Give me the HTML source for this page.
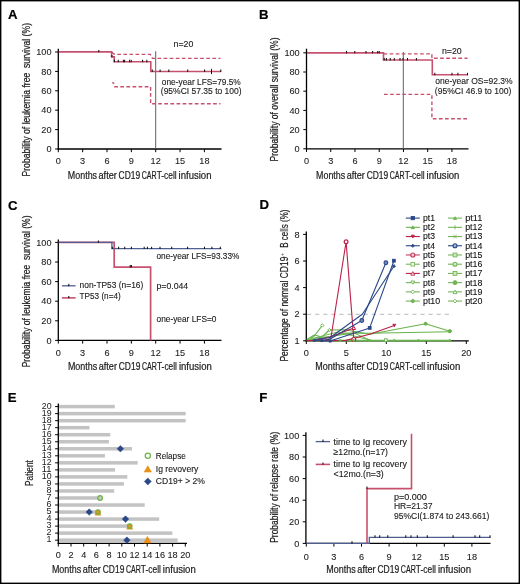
<!DOCTYPE html>
<html><head><meta charset="utf-8"><style>
html,body{margin:0;padding:0;background:#fff;}
svg{display:block;will-change:transform;}
text{font-family:"Liberation Sans", sans-serif;}
</style></head><body>
<svg width="520" height="584" viewBox="0 0 520 584">
<rect x="0" y="0" width="520" height="584" fill="#fff"/>
<rect x="0.6" y="0.6" width="518.8" height="582.8" fill="none" stroke="#000" stroke-width="1.6"/>
<text x="8" y="18.8" font-size="13.2" font-weight="bold" fill="#000" stroke="#000" stroke-width="0.2">A</text>
<line x1="58.3" y1="48.7" x2="58.3" y2="149.6" stroke="#000" stroke-width="1.3"/>
<line x1="55.099999999999994" y1="149.0" x2="58.3" y2="149.0" stroke="#000" stroke-width="1.0"/>
<text x="51.5" y="152.1" font-size="9.6" text-anchor="end" textLength="5.1" lengthAdjust="spacingAndGlyphs" fill="#1a1a1a" stroke="#1a1a1a" stroke-width="0.08">0</text>
<line x1="55.099999999999994" y1="129.6" x2="58.3" y2="129.6" stroke="#000" stroke-width="1.0"/>
<text x="51.5" y="132.7" font-size="9.6" text-anchor="end" textLength="10.2" lengthAdjust="spacingAndGlyphs" fill="#1a1a1a" stroke="#1a1a1a" stroke-width="0.08">20</text>
<line x1="55.099999999999994" y1="110.2" x2="58.3" y2="110.2" stroke="#000" stroke-width="1.0"/>
<text x="51.5" y="113.3" font-size="9.6" text-anchor="end" textLength="10.2" lengthAdjust="spacingAndGlyphs" fill="#1a1a1a" stroke="#1a1a1a" stroke-width="0.08">40</text>
<line x1="55.099999999999994" y1="90.80000000000001" x2="58.3" y2="90.80000000000001" stroke="#000" stroke-width="1.0"/>
<text x="51.5" y="93.9" font-size="9.6" text-anchor="end" textLength="10.2" lengthAdjust="spacingAndGlyphs" fill="#1a1a1a" stroke="#1a1a1a" stroke-width="0.08">60</text>
<line x1="55.099999999999994" y1="71.4" x2="58.3" y2="71.4" stroke="#000" stroke-width="1.0"/>
<text x="51.5" y="74.5" font-size="9.6" text-anchor="end" textLength="10.2" lengthAdjust="spacingAndGlyphs" fill="#1a1a1a" stroke="#1a1a1a" stroke-width="0.08">80</text>
<line x1="55.099999999999994" y1="52.0" x2="58.3" y2="52.0" stroke="#000" stroke-width="1.0"/>
<text x="51.5" y="55.1" font-size="9.6" text-anchor="end" textLength="15.299999999999999" lengthAdjust="spacingAndGlyphs" fill="#1a1a1a" stroke="#1a1a1a" stroke-width="0.08">100</text>
<line x1="57.699999999999996" y1="149.0" x2="221.5" y2="149.0" stroke="#000" stroke-width="1.35"/>
<line x1="58.3" y1="149.0" x2="58.3" y2="152.2" stroke="#000" stroke-width="1.0"/>
<text x="58.3" y="163.79999999999998" font-size="9.6" text-anchor="middle" textLength="5.1" lengthAdjust="spacingAndGlyphs" fill="#1a1a1a" stroke="#1a1a1a" stroke-width="0.08">0</text>
<line x1="82.651" y1="149.0" x2="82.651" y2="152.2" stroke="#000" stroke-width="1.0"/>
<text x="82.651" y="163.79999999999998" font-size="9.6" text-anchor="middle" textLength="5.1" lengthAdjust="spacingAndGlyphs" fill="#1a1a1a" stroke="#1a1a1a" stroke-width="0.08">3</text>
<line x1="107.00200000000001" y1="149.0" x2="107.00200000000001" y2="152.2" stroke="#000" stroke-width="1.0"/>
<text x="107.00200000000001" y="163.79999999999998" font-size="9.6" text-anchor="middle" textLength="5.1" lengthAdjust="spacingAndGlyphs" fill="#1a1a1a" stroke="#1a1a1a" stroke-width="0.08">6</text>
<line x1="131.353" y1="149.0" x2="131.353" y2="152.2" stroke="#000" stroke-width="1.0"/>
<text x="131.353" y="163.79999999999998" font-size="9.6" text-anchor="middle" textLength="5.1" lengthAdjust="spacingAndGlyphs" fill="#1a1a1a" stroke="#1a1a1a" stroke-width="0.08">9</text>
<line x1="155.704" y1="149.0" x2="155.704" y2="152.2" stroke="#000" stroke-width="1.0"/>
<text x="155.704" y="163.79999999999998" font-size="9.6" text-anchor="middle" textLength="10.2" lengthAdjust="spacingAndGlyphs" fill="#1a1a1a" stroke="#1a1a1a" stroke-width="0.08">12</text>
<line x1="180.055" y1="149.0" x2="180.055" y2="152.2" stroke="#000" stroke-width="1.0"/>
<text x="180.055" y="163.79999999999998" font-size="9.6" text-anchor="middle" textLength="10.2" lengthAdjust="spacingAndGlyphs" fill="#1a1a1a" stroke="#1a1a1a" stroke-width="0.08">15</text>
<line x1="204.406" y1="149.0" x2="204.406" y2="152.2" stroke="#000" stroke-width="1.0"/>
<text x="204.406" y="163.79999999999998" font-size="9.6" text-anchor="middle" textLength="10.2" lengthAdjust="spacingAndGlyphs" fill="#1a1a1a" stroke="#1a1a1a" stroke-width="0.08">18</text>
<text x="67.85" y="178.6" font-size="10.6" textLength="29.2" lengthAdjust="spacingAndGlyphs" fill="#1a1a1a" stroke="#1a1a1a" stroke-width="0.2">Months</text>
<text x="98.55" y="178.6" font-size="10.6" textLength="18.2" lengthAdjust="spacingAndGlyphs" fill="#1a1a1a" stroke="#1a1a1a" stroke-width="0.2">after</text>
<text x="118.55" y="178.6" font-size="10.6" textLength="21.6" lengthAdjust="spacingAndGlyphs" fill="#1a1a1a" stroke="#1a1a1a" stroke-width="0.2">CD19</text>
<text x="141.75" y="178.6" font-size="10.6" textLength="14.9" lengthAdjust="spacingAndGlyphs" fill="#1a1a1a" stroke="#1a1a1a" stroke-width="0.2">CAR</text>
<text x="156.65" y="178.6" font-size="10.6" textLength="20.0" lengthAdjust="spacingAndGlyphs" fill="#1a1a1a" stroke="#1a1a1a" stroke-width="0.2">T-cell</text>
<text x="178.55" y="178.6" font-size="10.6" textLength="32.9" lengthAdjust="spacingAndGlyphs" fill="#1a1a1a" stroke="#1a1a1a" stroke-width="0.2">infusion</text>
<text x="29.5" y="176.5" font-size="10.3" textLength="153.5" lengthAdjust="spacingAndGlyphs" transform="rotate(-90 29.5 176.5)" fill="#1a1a1a" stroke="#1a1a1a" stroke-width="0.2">Probability of leukemia free  survival (%)</text>
<line x1="155.7" y1="51.2" x2="155.7" y2="149.0" stroke="#606060" stroke-width="1.0"/>
<path d="M112.3,82.3 L114.2,83.6" stroke="#c8506f" stroke-width="1.4" fill="none"/>
<path d="M114.2,86.8 H150.6 V103.8 H220.5" stroke="#c8506f" stroke-width="1.4" fill="none" stroke-dasharray="3.7 2.4"/>
<path d="M111.8,52.4 L114.5,54.4 H150.4 L152.4,58.4 H220.5" stroke="#c8506f" stroke-width="1.4" fill="none" stroke-dasharray="3.7 2.4"/>
<path d="M58.8,51.9 H111.6 V56.9 H114.2 V61.8 H150.8 V71.5 H221" stroke="#c8506f" stroke-width="1.6" fill="none"/>
<line x1="98.8" y1="49.9" x2="98.8" y2="52.3" stroke="#111" stroke-width="1.05"/>
<line x1="111.9" y1="54.9" x2="111.9" y2="57.3" stroke="#111" stroke-width="1.05"/>
<line x1="114.4" y1="59.8" x2="114.4" y2="62.199999999999996" stroke="#111" stroke-width="1.05"/>
<line x1="118.3" y1="59.8" x2="118.3" y2="62.199999999999996" stroke="#111" stroke-width="1.05"/>
<line x1="123.4" y1="59.8" x2="123.4" y2="62.199999999999996" stroke="#111" stroke-width="1.05"/>
<line x1="124.6" y1="59.8" x2="124.6" y2="62.199999999999996" stroke="#111" stroke-width="1.05"/>
<line x1="129.6" y1="59.8" x2="129.6" y2="62.199999999999996" stroke="#111" stroke-width="1.05"/>
<line x1="131.2" y1="59.8" x2="131.2" y2="62.199999999999996" stroke="#111" stroke-width="1.05"/>
<line x1="142.6" y1="59.8" x2="142.6" y2="62.199999999999996" stroke="#111" stroke-width="1.05"/>
<line x1="146.8" y1="59.8" x2="146.8" y2="62.199999999999996" stroke="#111" stroke-width="1.05"/>
<line x1="152.3" y1="69.5" x2="152.3" y2="71.9" stroke="#111" stroke-width="1.05"/>
<line x1="160.1" y1="69.5" x2="160.1" y2="71.9" stroke="#111" stroke-width="1.05"/>
<line x1="168.8" y1="69.5" x2="168.8" y2="71.9" stroke="#111" stroke-width="1.05"/>
<line x1="187.7" y1="69.5" x2="187.7" y2="71.9" stroke="#111" stroke-width="1.05"/>
<line x1="204.6" y1="69.5" x2="204.6" y2="71.9" stroke="#111" stroke-width="1.05"/>
<line x1="220.8" y1="69.5" x2="220.8" y2="71.9" stroke="#111" stroke-width="1.05"/>
<line x1="211.5" y1="68.9" x2="211.5" y2="74.1" stroke="#111" stroke-width="1.05"/>
<text x="173.6" y="46.6" font-size="9.2" textLength="19.8" lengthAdjust="spacingAndGlyphs" fill="#1a1a1a" stroke="#1a1a1a" stroke-width="0.12">n=20</text>
<text x="161.8" y="84.7" font-size="9.2" textLength="79.0" lengthAdjust="spacingAndGlyphs" fill="#1a1a1a" stroke="#1a1a1a" stroke-width="0.12">one-year LFS=79.5%</text>
<text x="160.8" y="93.9" font-size="9.2" textLength="80.8" lengthAdjust="spacingAndGlyphs" fill="#1a1a1a" stroke="#1a1a1a" stroke-width="0.12">(95%CI 57.35 to 100)</text>
<text x="259" y="18.8" font-size="13.2" font-weight="bold" fill="#000" stroke="#000" stroke-width="0.2">B</text>
<line x1="306.5" y1="48.7" x2="306.5" y2="149.4" stroke="#000" stroke-width="1.3"/>
<line x1="303.3" y1="148.8" x2="306.5" y2="148.8" stroke="#000" stroke-width="1.0"/>
<text x="299.7" y="151.9" font-size="9.6" text-anchor="end" textLength="5.1" lengthAdjust="spacingAndGlyphs" fill="#1a1a1a" stroke="#1a1a1a" stroke-width="0.08">0</text>
<line x1="303.3" y1="129.60000000000002" x2="306.5" y2="129.60000000000002" stroke="#000" stroke-width="1.0"/>
<text x="299.7" y="132.70000000000002" font-size="9.6" text-anchor="end" textLength="10.2" lengthAdjust="spacingAndGlyphs" fill="#1a1a1a" stroke="#1a1a1a" stroke-width="0.08">20</text>
<line x1="303.3" y1="110.4" x2="306.5" y2="110.4" stroke="#000" stroke-width="1.0"/>
<text x="299.7" y="113.5" font-size="9.6" text-anchor="end" textLength="10.2" lengthAdjust="spacingAndGlyphs" fill="#1a1a1a" stroke="#1a1a1a" stroke-width="0.08">40</text>
<line x1="303.3" y1="91.20000000000002" x2="306.5" y2="91.20000000000002" stroke="#000" stroke-width="1.0"/>
<text x="299.7" y="94.30000000000001" font-size="9.6" text-anchor="end" textLength="10.2" lengthAdjust="spacingAndGlyphs" fill="#1a1a1a" stroke="#1a1a1a" stroke-width="0.08">60</text>
<line x1="303.3" y1="72.00000000000001" x2="306.5" y2="72.00000000000001" stroke="#000" stroke-width="1.0"/>
<text x="299.7" y="75.10000000000001" font-size="9.6" text-anchor="end" textLength="10.2" lengthAdjust="spacingAndGlyphs" fill="#1a1a1a" stroke="#1a1a1a" stroke-width="0.08">80</text>
<line x1="303.3" y1="52.80000000000001" x2="306.5" y2="52.80000000000001" stroke="#000" stroke-width="1.0"/>
<text x="299.7" y="55.90000000000001" font-size="9.6" text-anchor="end" textLength="15.299999999999999" lengthAdjust="spacingAndGlyphs" fill="#1a1a1a" stroke="#1a1a1a" stroke-width="0.08">100</text>
<line x1="305.9" y1="148.8" x2="468.5" y2="148.8" stroke="#000" stroke-width="1.35"/>
<line x1="306.5" y1="148.8" x2="306.5" y2="152.0" stroke="#000" stroke-width="1.0"/>
<text x="306.5" y="163.79999999999998" font-size="9.6" text-anchor="middle" textLength="5.1" lengthAdjust="spacingAndGlyphs" fill="#1a1a1a" stroke="#1a1a1a" stroke-width="0.08">0</text>
<line x1="330.74" y1="148.8" x2="330.74" y2="152.0" stroke="#000" stroke-width="1.0"/>
<text x="330.74" y="163.79999999999998" font-size="9.6" text-anchor="middle" textLength="5.1" lengthAdjust="spacingAndGlyphs" fill="#1a1a1a" stroke="#1a1a1a" stroke-width="0.08">3</text>
<line x1="354.98" y1="148.8" x2="354.98" y2="152.0" stroke="#000" stroke-width="1.0"/>
<text x="354.98" y="163.79999999999998" font-size="9.6" text-anchor="middle" textLength="5.1" lengthAdjust="spacingAndGlyphs" fill="#1a1a1a" stroke="#1a1a1a" stroke-width="0.08">6</text>
<line x1="379.22" y1="148.8" x2="379.22" y2="152.0" stroke="#000" stroke-width="1.0"/>
<text x="379.22" y="163.79999999999998" font-size="9.6" text-anchor="middle" textLength="5.1" lengthAdjust="spacingAndGlyphs" fill="#1a1a1a" stroke="#1a1a1a" stroke-width="0.08">9</text>
<line x1="403.46000000000004" y1="148.8" x2="403.46000000000004" y2="152.0" stroke="#000" stroke-width="1.0"/>
<text x="403.46000000000004" y="163.79999999999998" font-size="9.6" text-anchor="middle" textLength="10.2" lengthAdjust="spacingAndGlyphs" fill="#1a1a1a" stroke="#1a1a1a" stroke-width="0.08">12</text>
<line x1="427.7" y1="148.8" x2="427.7" y2="152.0" stroke="#000" stroke-width="1.0"/>
<text x="427.7" y="163.79999999999998" font-size="9.6" text-anchor="middle" textLength="10.2" lengthAdjust="spacingAndGlyphs" fill="#1a1a1a" stroke="#1a1a1a" stroke-width="0.08">15</text>
<line x1="451.94" y1="148.8" x2="451.94" y2="152.0" stroke="#000" stroke-width="1.0"/>
<text x="451.94" y="163.79999999999998" font-size="9.6" text-anchor="middle" textLength="10.2" lengthAdjust="spacingAndGlyphs" fill="#1a1a1a" stroke="#1a1a1a" stroke-width="0.08">18</text>
<text x="316.05" y="178.6" font-size="10.6" textLength="29.14" lengthAdjust="spacingAndGlyphs" fill="#1a1a1a" stroke="#1a1a1a" stroke-width="0.2">Months</text>
<text x="346.69" y="178.6" font-size="10.6" textLength="18.16" lengthAdjust="spacingAndGlyphs" fill="#1a1a1a" stroke="#1a1a1a" stroke-width="0.2">after</text>
<text x="366.64" y="178.6" font-size="10.6" textLength="21.56" lengthAdjust="spacingAndGlyphs" fill="#1a1a1a" stroke="#1a1a1a" stroke-width="0.2">CD19</text>
<text x="389.79" y="178.6" font-size="10.6" textLength="14.87" lengthAdjust="spacingAndGlyphs" fill="#1a1a1a" stroke="#1a1a1a" stroke-width="0.2">CAR</text>
<text x="404.66" y="178.6" font-size="10.6" textLength="19.96" lengthAdjust="spacingAndGlyphs" fill="#1a1a1a" stroke="#1a1a1a" stroke-width="0.2">T-cell</text>
<text x="426.52" y="178.6" font-size="10.6" textLength="32.83" lengthAdjust="spacingAndGlyphs" fill="#1a1a1a" stroke="#1a1a1a" stroke-width="0.2">infusion</text>
<text x="278.0" y="161.5" font-size="10.2" textLength="124" lengthAdjust="spacingAndGlyphs" transform="rotate(-90 278.0 161.5)" fill="#1a1a1a" stroke="#1a1a1a" stroke-width="0.2">Probability of overall survival (%)</text>
<line x1="403.3" y1="52.1" x2="403.3" y2="148.8" stroke="#606060" stroke-width="1.0"/>
<path d="M383.5,53.9 H431.9 V58.3 H467.5" stroke="#c8506f" stroke-width="1.4" fill="none" stroke-dasharray="3.7 2.4"/>
<path d="M384,94.4 H431.9 V118.8 H467.5" stroke="#c8506f" stroke-width="1.4" fill="none" stroke-dasharray="3.7 2.4"/>
<path d="M307,52.9 H383.5 V60.0 H432.3 V74.8 H468" stroke="#c8506f" stroke-width="1.6" fill="none"/>
<line x1="346.5" y1="50.9" x2="346.5" y2="53.3" stroke="#111" stroke-width="1.05"/>
<line x1="354.8" y1="50.9" x2="354.8" y2="53.3" stroke="#111" stroke-width="1.05"/>
<line x1="366" y1="50.9" x2="366" y2="53.3" stroke="#111" stroke-width="1.05"/>
<line x1="372.6" y1="50.9" x2="372.6" y2="53.3" stroke="#111" stroke-width="1.05"/>
<line x1="377.7" y1="50.9" x2="377.7" y2="53.3" stroke="#111" stroke-width="1.05"/>
<line x1="379.2" y1="50.9" x2="379.2" y2="53.3" stroke="#111" stroke-width="1.05"/>
<line x1="384.2" y1="58.0" x2="384.2" y2="60.4" stroke="#111" stroke-width="1.05"/>
<line x1="386.4" y1="58.0" x2="386.4" y2="60.4" stroke="#111" stroke-width="1.05"/>
<line x1="390.2" y1="58.0" x2="390.2" y2="60.4" stroke="#111" stroke-width="1.05"/>
<line x1="394.3" y1="58.0" x2="394.3" y2="60.4" stroke="#111" stroke-width="1.05"/>
<line x1="400" y1="58.0" x2="400" y2="60.4" stroke="#111" stroke-width="1.05"/>
<line x1="403" y1="58.0" x2="403" y2="60.4" stroke="#111" stroke-width="1.05"/>
<line x1="407.5" y1="58.0" x2="407.5" y2="60.4" stroke="#111" stroke-width="1.05"/>
<line x1="416.4" y1="58.0" x2="416.4" y2="60.4" stroke="#111" stroke-width="1.05"/>
<line x1="434.8" y1="72.8" x2="434.8" y2="75.2" stroke="#111" stroke-width="1.05"/>
<line x1="452" y1="72.8" x2="452" y2="75.2" stroke="#111" stroke-width="1.05"/>
<line x1="457.9" y1="72.8" x2="457.9" y2="75.2" stroke="#111" stroke-width="1.05"/>
<line x1="467.5" y1="72.8" x2="467.5" y2="75.2" stroke="#111" stroke-width="1.05"/>
<text x="441.9" y="54.2" font-size="9.2" textLength="19.8" lengthAdjust="spacingAndGlyphs" fill="#1a1a1a" stroke="#1a1a1a" stroke-width="0.12">n=20</text>
<text x="435.2" y="84.2" font-size="9.2" textLength="77.5" lengthAdjust="spacingAndGlyphs" fill="#1a1a1a" stroke="#1a1a1a" stroke-width="0.12">one-year OS=92.3%</text>
<text x="434.8" y="94.2" font-size="9.2" textLength="76.5" lengthAdjust="spacingAndGlyphs" fill="#1a1a1a" stroke="#1a1a1a" stroke-width="0.12">(95%CI 46.9 to 100)</text>
<text x="8" y="209.6" font-size="13.2" font-weight="bold" fill="#000" stroke="#000" stroke-width="0.2">C</text>
<line x1="58.3" y1="239.6" x2="58.3" y2="341.0" stroke="#000" stroke-width="1.3"/>
<line x1="55.099999999999994" y1="340.4" x2="58.3" y2="340.4" stroke="#000" stroke-width="1.0"/>
<text x="51.5" y="343.5" font-size="9.6" text-anchor="end" textLength="5.1" lengthAdjust="spacingAndGlyphs" fill="#1a1a1a" stroke="#1a1a1a" stroke-width="0.08">0</text>
<line x1="55.099999999999994" y1="320.79999999999995" x2="58.3" y2="320.79999999999995" stroke="#000" stroke-width="1.0"/>
<text x="51.5" y="323.9" font-size="9.6" text-anchor="end" textLength="10.2" lengthAdjust="spacingAndGlyphs" fill="#1a1a1a" stroke="#1a1a1a" stroke-width="0.08">20</text>
<line x1="55.099999999999994" y1="301.2" x2="58.3" y2="301.2" stroke="#000" stroke-width="1.0"/>
<text x="51.5" y="304.3" font-size="9.6" text-anchor="end" textLength="10.2" lengthAdjust="spacingAndGlyphs" fill="#1a1a1a" stroke="#1a1a1a" stroke-width="0.08">40</text>
<line x1="55.099999999999994" y1="281.59999999999997" x2="58.3" y2="281.59999999999997" stroke="#000" stroke-width="1.0"/>
<text x="51.5" y="284.7" font-size="9.6" text-anchor="end" textLength="10.2" lengthAdjust="spacingAndGlyphs" fill="#1a1a1a" stroke="#1a1a1a" stroke-width="0.08">60</text>
<line x1="55.099999999999994" y1="262.0" x2="58.3" y2="262.0" stroke="#000" stroke-width="1.0"/>
<text x="51.5" y="265.1" font-size="9.6" text-anchor="end" textLength="10.2" lengthAdjust="spacingAndGlyphs" fill="#1a1a1a" stroke="#1a1a1a" stroke-width="0.08">80</text>
<line x1="55.099999999999994" y1="242.39999999999998" x2="58.3" y2="242.39999999999998" stroke="#000" stroke-width="1.0"/>
<text x="51.5" y="245.49999999999997" font-size="9.6" text-anchor="end" textLength="15.299999999999999" lengthAdjust="spacingAndGlyphs" fill="#1a1a1a" stroke="#1a1a1a" stroke-width="0.08">100</text>
<line x1="57.699999999999996" y1="340.4" x2="221.5" y2="340.4" stroke="#000" stroke-width="1.35"/>
<line x1="58.3" y1="340.4" x2="58.3" y2="343.59999999999997" stroke="#000" stroke-width="1.0"/>
<text x="58.3" y="356.1" font-size="9.6" text-anchor="middle" textLength="5.1" lengthAdjust="spacingAndGlyphs" fill="#1a1a1a" stroke="#1a1a1a" stroke-width="0.08">0</text>
<line x1="82.651" y1="340.4" x2="82.651" y2="343.59999999999997" stroke="#000" stroke-width="1.0"/>
<text x="82.651" y="356.1" font-size="9.6" text-anchor="middle" textLength="5.1" lengthAdjust="spacingAndGlyphs" fill="#1a1a1a" stroke="#1a1a1a" stroke-width="0.08">3</text>
<line x1="107.00200000000001" y1="340.4" x2="107.00200000000001" y2="343.59999999999997" stroke="#000" stroke-width="1.0"/>
<text x="107.00200000000001" y="356.1" font-size="9.6" text-anchor="middle" textLength="5.1" lengthAdjust="spacingAndGlyphs" fill="#1a1a1a" stroke="#1a1a1a" stroke-width="0.08">6</text>
<line x1="131.353" y1="340.4" x2="131.353" y2="343.59999999999997" stroke="#000" stroke-width="1.0"/>
<text x="131.353" y="356.1" font-size="9.6" text-anchor="middle" textLength="5.1" lengthAdjust="spacingAndGlyphs" fill="#1a1a1a" stroke="#1a1a1a" stroke-width="0.08">9</text>
<line x1="155.704" y1="340.4" x2="155.704" y2="343.59999999999997" stroke="#000" stroke-width="1.0"/>
<text x="155.704" y="356.1" font-size="9.6" text-anchor="middle" textLength="10.2" lengthAdjust="spacingAndGlyphs" fill="#1a1a1a" stroke="#1a1a1a" stroke-width="0.08">12</text>
<line x1="180.055" y1="340.4" x2="180.055" y2="343.59999999999997" stroke="#000" stroke-width="1.0"/>
<text x="180.055" y="356.1" font-size="9.6" text-anchor="middle" textLength="10.2" lengthAdjust="spacingAndGlyphs" fill="#1a1a1a" stroke="#1a1a1a" stroke-width="0.08">15</text>
<line x1="204.406" y1="340.4" x2="204.406" y2="343.59999999999997" stroke="#000" stroke-width="1.0"/>
<text x="204.406" y="356.1" font-size="9.6" text-anchor="middle" textLength="10.2" lengthAdjust="spacingAndGlyphs" fill="#1a1a1a" stroke="#1a1a1a" stroke-width="0.08">18</text>
<text x="67.95" y="370.4" font-size="10.6" textLength="29.26" lengthAdjust="spacingAndGlyphs" fill="#1a1a1a" stroke="#1a1a1a" stroke-width="0.2">Months</text>
<text x="98.71" y="370.4" font-size="10.6" textLength="18.24" lengthAdjust="spacingAndGlyphs" fill="#1a1a1a" stroke="#1a1a1a" stroke-width="0.2">after</text>
<text x="118.76" y="370.4" font-size="10.6" textLength="21.64" lengthAdjust="spacingAndGlyphs" fill="#1a1a1a" stroke="#1a1a1a" stroke-width="0.2">CD19</text>
<text x="142.01" y="370.4" font-size="10.6" textLength="14.93" lengthAdjust="spacingAndGlyphs" fill="#1a1a1a" stroke="#1a1a1a" stroke-width="0.2">CAR</text>
<text x="156.94" y="370.4" font-size="10.6" textLength="20.04" lengthAdjust="spacingAndGlyphs" fill="#1a1a1a" stroke="#1a1a1a" stroke-width="0.2">T-cell</text>
<text x="178.88" y="370.4" font-size="10.6" textLength="32.97" lengthAdjust="spacingAndGlyphs" fill="#1a1a1a" stroke="#1a1a1a" stroke-width="0.2">infusion</text>
<text x="29.6" y="367.3" font-size="10.3" textLength="151.8" lengthAdjust="spacingAndGlyphs" transform="rotate(-90 29.6 367.3)" fill="#1a1a1a" stroke="#1a1a1a" stroke-width="0.2">Probability of leukemia free  survival (%)</text>
<path d="M58.8,242.3 H114.2 V267.1 H150.6 V340.4" stroke="#c8506f" stroke-width="1.7" fill="none"/>
<path d="M58.8,242.4 H111.9 V248.7 H221.4" stroke="#4f5f92" stroke-width="1.3" fill="none"/>
<line x1="98.4" y1="240.4" x2="98.4" y2="242.8" stroke="#111" stroke-width="1.05"/>
<line x1="112.3" y1="246.7" x2="112.3" y2="249.1" stroke="#111" stroke-width="1.05"/>
<line x1="118.6" y1="246.7" x2="118.6" y2="249.1" stroke="#111" stroke-width="1.05"/>
<line x1="124.7" y1="246.7" x2="124.7" y2="249.1" stroke="#111" stroke-width="1.05"/>
<line x1="131.4" y1="246.7" x2="131.4" y2="249.1" stroke="#111" stroke-width="1.05"/>
<line x1="144.2" y1="246.7" x2="144.2" y2="249.1" stroke="#111" stroke-width="1.05"/>
<line x1="147.4" y1="246.7" x2="147.4" y2="249.1" stroke="#111" stroke-width="1.05"/>
<line x1="151.6" y1="246.7" x2="151.6" y2="249.1" stroke="#111" stroke-width="1.05"/>
<line x1="160" y1="246.7" x2="160" y2="249.1" stroke="#111" stroke-width="1.05"/>
<line x1="171.7" y1="246.7" x2="171.7" y2="249.1" stroke="#111" stroke-width="1.05"/>
<line x1="187.6" y1="246.7" x2="187.6" y2="249.1" stroke="#111" stroke-width="1.05"/>
<line x1="204.5" y1="246.7" x2="204.5" y2="249.1" stroke="#111" stroke-width="1.05"/>
<line x1="211.9" y1="246.7" x2="211.9" y2="249.1" stroke="#111" stroke-width="1.05"/>
<line x1="220.3" y1="246.7" x2="220.3" y2="249.1" stroke="#111" stroke-width="1.05"/>
<line x1="130.2" y1="265.1" x2="130.2" y2="267.5" stroke="#111" stroke-width="1.05"/>
<line x1="131.4" y1="265.1" x2="131.4" y2="267.5" stroke="#111" stroke-width="1.05"/>
<line x1="61.9" y1="285.8" x2="75.6" y2="285.8" stroke="#4f5f92" stroke-width="1.3"/>
<line x1="68.8" y1="283.8" x2="68.8" y2="286.2" stroke="#111" stroke-width="1.05"/>
<line x1="61.9" y1="297.9" x2="75.6" y2="297.9" stroke="#c8506f" stroke-width="1.6"/>
<line x1="68.8" y1="295.9" x2="68.8" y2="298.29999999999995" stroke="#111" stroke-width="1.05"/>
<text x="79.6" y="287.6" font-size="9.2" textLength="63.7" lengthAdjust="spacingAndGlyphs" fill="#1a1a1a" stroke="#1a1a1a" stroke-width="0.12">non-TP53 (n=16)</text>
<text x="79.6" y="298.8" font-size="9.2" textLength="41.1" lengthAdjust="spacingAndGlyphs" fill="#1a1a1a" stroke="#1a1a1a" stroke-width="0.12">TP53 (n=4)</text>
<text x="156.5" y="259.0" font-size="9.2" textLength="82.9" lengthAdjust="spacingAndGlyphs" fill="#1a1a1a" stroke="#1a1a1a" stroke-width="0.12">one-year LFS=93.33%</text>
<text x="156.5" y="289.2" font-size="9.2" textLength="31.7" lengthAdjust="spacingAndGlyphs" fill="#1a1a1a" stroke="#1a1a1a" stroke-width="0.12">p=0.044</text>
<text x="156.5" y="321.7" font-size="9.2" textLength="60.0" lengthAdjust="spacingAndGlyphs" fill="#1a1a1a" stroke="#1a1a1a" stroke-width="0.12">one-year LFS=0</text>
<text x="259.4" y="208.8" font-size="13.2" font-weight="bold" fill="#000" stroke="#000" stroke-width="0.2">D</text>
<line x1="307" y1="314.3" x2="453" y2="314.3" stroke="#b8b8b8" stroke-width="1.0" stroke-dasharray="4.2 3.9"/>
<line x1="306.3" y1="231.6" x2="306.3" y2="341.40000000000003" stroke="#000" stroke-width="1.3"/>
<line x1="303.1" y1="340.8" x2="306.3" y2="340.8" stroke="#000" stroke-width="1.0"/>
<text x="299.7" y="343.90000000000003" font-size="9.6" text-anchor="end" textLength="5.1" lengthAdjust="spacingAndGlyphs" fill="#1a1a1a" stroke="#1a1a1a" stroke-width="0.08">1</text>
<line x1="303.1" y1="314.2" x2="306.3" y2="314.2" stroke="#000" stroke-width="1.0"/>
<text x="299.7" y="317.3" font-size="9.6" text-anchor="end" textLength="5.1" lengthAdjust="spacingAndGlyphs" fill="#1a1a1a" stroke="#1a1a1a" stroke-width="0.08">2</text>
<line x1="303.1" y1="287.59999999999997" x2="306.3" y2="287.59999999999997" stroke="#000" stroke-width="1.0"/>
<text x="299.7" y="290.7" font-size="9.6" text-anchor="end" textLength="5.1" lengthAdjust="spacingAndGlyphs" fill="#1a1a1a" stroke="#1a1a1a" stroke-width="0.08">4</text>
<line x1="303.1" y1="261.0" x2="306.3" y2="261.0" stroke="#000" stroke-width="1.0"/>
<text x="299.7" y="264.1" font-size="9.6" text-anchor="end" textLength="5.1" lengthAdjust="spacingAndGlyphs" fill="#1a1a1a" stroke="#1a1a1a" stroke-width="0.08">6</text>
<line x1="303.1" y1="234.39999999999998" x2="306.3" y2="234.39999999999998" stroke="#000" stroke-width="1.0"/>
<text x="299.7" y="237.49999999999997" font-size="9.6" text-anchor="end" textLength="5.1" lengthAdjust="spacingAndGlyphs" fill="#1a1a1a" stroke="#1a1a1a" stroke-width="0.08">8</text>
<line x1="305.7" y1="340.8" x2="468.8" y2="340.8" stroke="#000" stroke-width="1.35"/>
<line x1="306.3" y1="340.8" x2="306.3" y2="344.0" stroke="#000" stroke-width="1.0"/>
<text x="306.3" y="355.90000000000003" font-size="9.6" text-anchor="middle" textLength="5.1" lengthAdjust="spacingAndGlyphs" fill="#1a1a1a" stroke="#1a1a1a" stroke-width="0.08">0</text>
<line x1="346.3" y1="340.8" x2="346.3" y2="344.0" stroke="#000" stroke-width="1.0"/>
<text x="346.3" y="355.90000000000003" font-size="9.6" text-anchor="middle" textLength="5.1" lengthAdjust="spacingAndGlyphs" fill="#1a1a1a" stroke="#1a1a1a" stroke-width="0.08">5</text>
<line x1="386.3" y1="340.8" x2="386.3" y2="344.0" stroke="#000" stroke-width="1.0"/>
<text x="386.3" y="355.90000000000003" font-size="9.6" text-anchor="middle" textLength="10.2" lengthAdjust="spacingAndGlyphs" fill="#1a1a1a" stroke="#1a1a1a" stroke-width="0.08">10</text>
<line x1="426.3" y1="340.8" x2="426.3" y2="344.0" stroke="#000" stroke-width="1.0"/>
<text x="426.3" y="355.90000000000003" font-size="9.6" text-anchor="middle" textLength="10.2" lengthAdjust="spacingAndGlyphs" fill="#1a1a1a" stroke="#1a1a1a" stroke-width="0.08">15</text>
<line x1="466.3" y1="340.8" x2="466.3" y2="344.0" stroke="#000" stroke-width="1.0"/>
<text x="466.3" y="355.90000000000003" font-size="9.6" text-anchor="middle" textLength="10.2" lengthAdjust="spacingAndGlyphs" fill="#1a1a1a" stroke="#1a1a1a" stroke-width="0.08">20</text>
<text x="315.25" y="370.4" font-size="10.6" textLength="29.48" lengthAdjust="spacingAndGlyphs" fill="#1a1a1a" stroke="#1a1a1a" stroke-width="0.2">Months</text>
<text x="346.25" y="370.4" font-size="10.6" textLength="18.37" lengthAdjust="spacingAndGlyphs" fill="#1a1a1a" stroke="#1a1a1a" stroke-width="0.2">after</text>
<text x="366.45" y="370.4" font-size="10.6" textLength="21.8" lengthAdjust="spacingAndGlyphs" fill="#1a1a1a" stroke="#1a1a1a" stroke-width="0.2">CD19</text>
<text x="389.87" y="370.4" font-size="10.6" textLength="15.04" lengthAdjust="spacingAndGlyphs" fill="#1a1a1a" stroke="#1a1a1a" stroke-width="0.2">CAR</text>
<text x="404.92" y="370.4" font-size="10.6" textLength="20.19" lengthAdjust="spacingAndGlyphs" fill="#1a1a1a" stroke="#1a1a1a" stroke-width="0.2">T-cell</text>
<text x="427.03" y="370.4" font-size="10.6" textLength="33.22" lengthAdjust="spacingAndGlyphs" fill="#1a1a1a" stroke="#1a1a1a" stroke-width="0.2">infusion</text>
<text x="288.0" y="361.6" font-size="10.3" textLength="105.0" lengthAdjust="spacingAndGlyphs" transform="rotate(-90 288.0 361.6)" fill="#1a1a1a" stroke="#1a1a1a" stroke-width="0.2">Percentage of nomral CD19</text>
<text x="284.4" y="256.2" font-size="6" textLength="3.5" lengthAdjust="spacingAndGlyphs" transform="rotate(-90 284.4 256.2)" fill="#555">+</text>
<text x="288.0" y="247.7" font-size="10.3" textLength="38.2" lengthAdjust="spacingAndGlyphs" transform="rotate(-90 288.0 247.7)" fill="#1a1a1a" stroke="#1a1a1a" stroke-width="0.2">B cells (%)</text>
<path d="M306.8,340.6 L449.8,340.6" stroke="#68b24c" stroke-width="1.6" fill="none" stroke-linejoin="round"/>
<path d="M310.0,339.0 L314.3,336.0 L322.3,325.4" stroke="#68b24c" stroke-width="1.1" fill="none" stroke-linejoin="round"/>
<path d="M306.8,339.5 L314.3,335.0 L322.0,337.0 L329.4,330.0 L345.2,329.8 L369.7,334.2 L425.6,323.7 L449.8,331.2" stroke="#68b24c" stroke-width="1.1" fill="none" stroke-linejoin="round"/>
<path d="M306.8,340.0 L322.0,338.5 L345.0,333.0 L369.7,333.2 L449.8,331.8" stroke="#68b24c" stroke-width="1.1" fill="none" stroke-linejoin="round"/>
<path d="M314.3,338.0 L330.0,336.5 L353.8,333.0 L369.7,339.9" stroke="#68b24c" stroke-width="1.0" fill="none" stroke-linejoin="round"/>
<path d="M306.8,340.2 L322.0,336.0 L338.0,332.0 L353.8,336.0 L369.7,340.0" stroke="#74b656" stroke-width="1.0" fill="none" stroke-linejoin="round"/>
<path d="M306.8,340.6 L322.5,340.8 L330.8,338.5 L346.1,241.8 L353.8,339.4" stroke="#bb2048" stroke-width="1.1" fill="none" stroke-linejoin="round"/>
<path d="M314.3,340.6 L330.0,337.0 L353.8,327.9" stroke="#bb2048" stroke-width="1.1" fill="none" stroke-linejoin="round"/>
<path d="M322.5,340.8 L345.7,340.4 L369.7,334.2 L394.3,325.5" stroke="#bb2048" stroke-width="1.1" fill="none" stroke-linejoin="round"/>
<path d="M314.3,340.4 L322.0,340.8 L330.2,341.0 L369.7,327.9 L393.9,260.7" stroke="#2a4888" stroke-width="1.1" fill="none" stroke-linejoin="round"/>
<path d="M314.3,339.5 L330.2,337.5 L362.3,314.2 L393.9,266.2" stroke="#2a4888" stroke-width="1.1" fill="none" stroke-linejoin="round"/>
<path d="M322.0,340.6 L330.2,339.0 L361.8,320.5 L385.9,262.8" stroke="#2a4888" stroke-width="1.1" fill="none" stroke-linejoin="round"/>
<circle cx="346.1" cy="241.8" r="1.9" stroke="#bb2048" stroke-width="1.2" fill="#fff"/>
<circle cx="353.8" cy="339.4" r="1.9" stroke="#bb2048" stroke-width="1.2" fill="#fff"/>
<polygon points="352.00,329.47 355.60,329.47 353.80,326.33" stroke="#bb2048" stroke-width="1.0" fill="#fff"/>
<polygon points="392.80,324.19 395.80,324.19 394.30,326.81" stroke="#bb2048" stroke-width="0.8" fill="#bb2048"/>
<circle cx="385.9" cy="262.8" r="1.9" stroke="#2a4888" stroke-width="1.1" fill="#6d86b8"/>
<rect x="392.5" y="259.3" width="2.8" height="2.8" stroke="#2a4888" stroke-width="0.9" fill="#2a4888"/>
<polygon points="393.90,264.60 395.50,266.20 393.90,267.80 392.30,266.20" stroke="#2a4888" stroke-width="0.9" fill="#2a4888"/>
<circle cx="361.8" cy="320.5" r="1.9" stroke="#2a4888" stroke-width="1.1" fill="#6d86b8"/>
<rect x="368.3" y="326.5" width="2.8" height="2.8" stroke="#2a4888" stroke-width="0.9" fill="#2a4888"/>
<rect x="313.15000000000003" y="339.25" width="2.3" height="2.3" stroke="#2a4888" stroke-width="0.6" fill="#2a4888"/>
<rect x="320.85" y="339.45000000000005" width="2.3" height="2.3" stroke="#2a4888" stroke-width="0.6" fill="#2a4888"/>
<rect x="329.05" y="339.85" width="2.3" height="2.3" stroke="#2a4888" stroke-width="0.6" fill="#2a4888"/>
<polygon points="322.30,323.70 324.00,325.40 322.30,327.10 320.60,325.40" stroke="#68b24c" stroke-width="0.9" fill="#fff"/>
<circle cx="425.6" cy="323.7" r="1.5" stroke="#68b24c" stroke-width="1.0" fill="#68b24c"/>
<circle cx="449.8" cy="331.2" r="1.6" stroke="#68b24c" stroke-width="1.0" fill="#68b24c"/>
<rect x="384.40000000000003" y="338.8" width="2.8" height="2.8" stroke="#68b24c" stroke-width="0.9" fill="#fff"/>
<polygon points="329.40,328.40 331.00,330.00 329.40,331.60 327.80,330.00" stroke="#68b24c" stroke-width="0.9" fill="#fff"/>
<circle cx="370" cy="340.6" r="1.0" stroke="#68b24c" stroke-width="1.0" fill="#68b24c"/>
<circle cx="394.3" cy="340.6" r="1.0" stroke="#68b24c" stroke-width="1.0" fill="#68b24c"/>
<circle cx="418.5" cy="340.6" r="1.0" stroke="#68b24c" stroke-width="1.0" fill="#68b24c"/>
<circle cx="449.8" cy="340.6" r="1.0" stroke="#68b24c" stroke-width="1.0" fill="#68b24c"/>
<circle cx="340" cy="340.6" r="1.0" stroke="#68b24c" stroke-width="1.0" fill="#68b24c"/>
<circle cx="353.8" cy="340.6" r="1.0" stroke="#68b24c" stroke-width="1.0" fill="#68b24c"/>
<line x1="405.8" y1="218.1" x2="419.8" y2="218.1" stroke="#2a4888" stroke-width="1.1"/>
<rect x="411.2" y="216.5" width="3.2" height="3.2" stroke="#2a4888" stroke-width="0.9" fill="#2a4888"/>
<text x="423.0" y="221.0" font-size="8.8" textLength="12.0" lengthAdjust="spacingAndGlyphs" fill="#111" stroke="#111" stroke-width="0.1">pt1</text>
<line x1="405.8" y1="227.32" x2="419.8" y2="227.32" stroke="#68b24c" stroke-width="1.1"/>
<polygon points="411.20,228.71 414.40,228.71 412.80,225.93" stroke="#68b24c" stroke-width="0.9" fill="#68b24c"/>
<text x="423.0" y="230.22" font-size="8.8" textLength="12.0" lengthAdjust="spacingAndGlyphs" fill="#111" stroke="#111" stroke-width="0.1">pt2</text>
<line x1="405.8" y1="236.54" x2="419.8" y2="236.54" stroke="#bb2048" stroke-width="1.1"/>
<polygon points="411.20,235.15 414.40,235.15 412.80,237.93" stroke="#bb2048" stroke-width="0.9" fill="#bb2048"/>
<text x="423.0" y="239.44" font-size="8.8" textLength="12.0" lengthAdjust="spacingAndGlyphs" fill="#111" stroke="#111" stroke-width="0.1">pt3</text>
<line x1="405.8" y1="245.76" x2="419.8" y2="245.76" stroke="#2a4888" stroke-width="1.1"/>
<polygon points="412.80,244.16 414.40,245.76 412.80,247.36 411.20,245.76" stroke="#2a4888" stroke-width="0.9" fill="#2a4888"/>
<text x="423.0" y="248.66" font-size="8.8" textLength="12.0" lengthAdjust="spacingAndGlyphs" fill="#111" stroke="#111" stroke-width="0.1">pt4</text>
<line x1="405.8" y1="254.98" x2="419.8" y2="254.98" stroke="#c8405e" stroke-width="1.1"/>
<circle cx="412.8" cy="254.98" r="2.0" stroke="#c8405e" stroke-width="1.2" fill="#f4d0da"/>
<text x="423.0" y="257.88" font-size="8.8" textLength="12.0" lengthAdjust="spacingAndGlyphs" fill="#111" stroke="#111" stroke-width="0.1">pt5</text>
<line x1="405.8" y1="264.2" x2="419.8" y2="264.2" stroke="#74b656" stroke-width="1.1"/>
<rect x="411.0" y="262.4" width="3.6" height="3.6" stroke="#74b656" stroke-width="0.9" fill="#fff"/>
<text x="423.0" y="267.09999999999997" font-size="8.8" textLength="12.0" lengthAdjust="spacingAndGlyphs" fill="#111" stroke="#111" stroke-width="0.1">pt6</text>
<line x1="405.8" y1="273.42" x2="419.8" y2="273.42" stroke="#bb2048" stroke-width="1.1"/>
<polygon points="410.80,275.16 414.80,275.16 412.80,271.68" stroke="#bb2048" stroke-width="0.9" fill="#fff"/>
<text x="423.0" y="276.32" font-size="8.8" textLength="12.0" lengthAdjust="spacingAndGlyphs" fill="#111" stroke="#111" stroke-width="0.1">pt7</text>
<line x1="405.8" y1="282.64" x2="419.8" y2="282.64" stroke="#74b656" stroke-width="1.1"/>
<polygon points="410.90,280.99 414.70,280.99 412.80,284.29" stroke="#74b656" stroke-width="0.9" fill="#fff"/>
<text x="423.0" y="285.53999999999996" font-size="8.8" textLength="12.0" lengthAdjust="spacingAndGlyphs" fill="#111" stroke="#111" stroke-width="0.1">pt8</text>
<line x1="405.8" y1="291.86" x2="419.8" y2="291.86" stroke="#74b656" stroke-width="1.1"/>
<polygon points="412.80,289.96 414.70,291.86 412.80,293.76 410.90,291.86" stroke="#74b656" stroke-width="0.9" fill="#fff"/>
<text x="423.0" y="294.76" font-size="8.8" textLength="12.0" lengthAdjust="spacingAndGlyphs" fill="#111" stroke="#111" stroke-width="0.1">pt9</text>
<line x1="405.8" y1="301.08" x2="419.8" y2="301.08" stroke="#74b656" stroke-width="1.1"/>
<circle cx="412.8" cy="301.08" r="1.6" stroke="#74b656" stroke-width="1.0" fill="#74b656"/>
<text x="423.0" y="303.97999999999996" font-size="8.8" textLength="17.2" lengthAdjust="spacingAndGlyphs" fill="#111" stroke="#111" stroke-width="0.1">pt10</text>
<line x1="448.0" y1="218.1" x2="462.0" y2="218.1" stroke="#74b656" stroke-width="1.1"/>
<polygon points="453.40,219.49 456.60,219.49 455.00,216.71" stroke="#74b656" stroke-width="0.9" fill="#74b656"/>
<text x="465.2" y="221.0" font-size="8.8" textLength="17.2" lengthAdjust="spacingAndGlyphs" fill="#111" stroke="#111" stroke-width="0.1">pt11</text>
<line x1="448.0" y1="227.32" x2="462.0" y2="227.32" stroke="#74b656" stroke-width="1.1"/>
<line x1="455.0" y1="225.32" x2="455.0" y2="229.32" stroke="#74b656" stroke-width="0.9"/>
<text x="465.2" y="230.22" font-size="8.8" textLength="17.2" lengthAdjust="spacingAndGlyphs" fill="#111" stroke="#111" stroke-width="0.1">pt12</text>
<line x1="448.0" y1="236.54" x2="462.0" y2="236.54" stroke="#74b656" stroke-width="1.1"/>
<line x1="453.4" y1="234.94" x2="456.6" y2="238.14" stroke="#74b656" stroke-width="0.9"/>
<line x1="453.4" y1="238.14" x2="456.6" y2="234.94" stroke="#74b656" stroke-width="0.9"/>
<text x="465.2" y="239.44" font-size="8.8" textLength="17.2" lengthAdjust="spacingAndGlyphs" fill="#111" stroke="#111" stroke-width="0.1">pt13</text>
<line x1="448.0" y1="245.76" x2="462.0" y2="245.76" stroke="#2a4888" stroke-width="1.1"/>
<circle cx="455.0" cy="245.76" r="2.0" stroke="#2a4888" stroke-width="1.1" fill="#9ab0d8"/>
<text x="465.2" y="248.66" font-size="8.8" textLength="17.2" lengthAdjust="spacingAndGlyphs" fill="#111" stroke="#111" stroke-width="0.1">pt14</text>
<line x1="448.0" y1="254.98" x2="462.0" y2="254.98" stroke="#74b656" stroke-width="1.1"/>
<rect x="453.1" y="253.07999999999998" width="3.8" height="3.8" stroke="#74b656" stroke-width="0.9" fill="#cfe8c0"/>
<text x="465.2" y="257.88" font-size="8.8" textLength="17.2" lengthAdjust="spacingAndGlyphs" fill="#111" stroke="#111" stroke-width="0.1">pt15</text>
<line x1="448.0" y1="264.2" x2="462.0" y2="264.2" stroke="#74b656" stroke-width="1.1"/>
<circle cx="455.0" cy="264.2" r="2.0" stroke="#74b656" stroke-width="1.1" fill="#cfe8c0"/>
<text x="465.2" y="267.09999999999997" font-size="8.8" textLength="17.2" lengthAdjust="spacingAndGlyphs" fill="#111" stroke="#111" stroke-width="0.1">pt16</text>
<line x1="448.0" y1="273.42" x2="462.0" y2="273.42" stroke="#74b656" stroke-width="1.1"/>
<rect x="453.1" y="271.52000000000004" width="3.8" height="3.8" stroke="#74b656" stroke-width="0.9" fill="#cfe8c0"/>
<text x="465.2" y="276.32" font-size="8.8" textLength="17.2" lengthAdjust="spacingAndGlyphs" fill="#111" stroke="#111" stroke-width="0.1">pt17</text>
<line x1="448.0" y1="282.64" x2="462.0" y2="282.64" stroke="#74b656" stroke-width="1.1"/>
<circle cx="455.0" cy="282.64" r="2.0" stroke="#74b656" stroke-width="1.0" fill="#74b656"/>
<text x="465.2" y="285.53999999999996" font-size="8.8" textLength="17.2" lengthAdjust="spacingAndGlyphs" fill="#111" stroke="#111" stroke-width="0.1">pt18</text>
<line x1="448.0" y1="291.86" x2="462.0" y2="291.86" stroke="#74b656" stroke-width="1.1"/>
<polygon points="453.00,293.60 457.00,293.60 455.00,290.12" stroke="#74b656" stroke-width="0.9" fill="#fff"/>
<text x="465.2" y="294.76" font-size="8.8" textLength="17.2" lengthAdjust="spacingAndGlyphs" fill="#111" stroke="#111" stroke-width="0.1">pt19</text>
<line x1="448.0" y1="301.08" x2="462.0" y2="301.08" stroke="#74b656" stroke-width="1.1"/>
<polygon points="455.00,299.18 456.90,301.08 455.00,302.98 453.10,301.08" stroke="#74b656" stroke-width="0.9" fill="#fff"/>
<text x="465.2" y="303.97999999999996" font-size="8.8" textLength="17.2" lengthAdjust="spacingAndGlyphs" fill="#111" stroke="#111" stroke-width="0.1">pt20</text>
<text x="7.8" y="401.5" font-size="13.2" font-weight="bold" fill="#000" stroke="#000" stroke-width="0.2">E</text>
<rect x="58.9" y="404.85" width="55.9" height="3.5" fill="#c3c3c3"/>
<rect x="58.9" y="411.88" width="126.8" height="3.5" fill="#c3c3c3"/>
<rect x="58.9" y="418.91" width="126.8" height="3.5" fill="#c3c3c3"/>
<rect x="58.9" y="425.94" width="30.6" height="3.5" fill="#c3c3c3"/>
<rect x="58.9" y="432.97" width="51.4" height="3.5" fill="#c3c3c3"/>
<rect x="58.9" y="440.0" width="50.00000000000001" height="3.5" fill="#c3c3c3"/>
<rect x="58.9" y="447.03000000000003" width="73.10000000000001" height="3.5" fill="#c3c3c3"/>
<rect x="58.9" y="454.06" width="46.00000000000001" height="3.5" fill="#c3c3c3"/>
<rect x="58.9" y="461.09000000000003" width="78.8" height="3.5" fill="#c3c3c3"/>
<rect x="58.9" y="468.12" width="56.199999999999996" height="3.5" fill="#c3c3c3"/>
<rect x="58.9" y="475.15000000000003" width="68.4" height="3.5" fill="#c3c3c3"/>
<rect x="58.9" y="482.18" width="65.00000000000001" height="3.5" fill="#c3c3c3"/>
<rect x="58.9" y="489.21000000000004" width="55.300000000000004" height="3.5" fill="#c3c3c3"/>
<rect x="58.9" y="496.24" width="40.699999999999996" height="3.5" fill="#c3c3c3"/>
<rect x="58.9" y="503.27000000000004" width="85.8" height="3.5" fill="#c3c3c3"/>
<rect x="58.9" y="510.30000000000007" width="39.1" height="3.5" fill="#c3c3c3"/>
<rect x="58.9" y="517.33" width="100.3" height="3.5" fill="#c3c3c3"/>
<rect x="58.9" y="524.36" width="72.10000000000001" height="3.5" fill="#c3c3c3"/>
<rect x="58.9" y="531.39" width="113.50000000000001" height="3.5" fill="#c3c3c3"/>
<rect x="58.9" y="538.4200000000001" width="118.8" height="3.5" fill="#c3c3c3"/>
<line x1="58.3" y1="403.5" x2="58.3" y2="543.9" stroke="#000" stroke-width="1.3"/>
<line x1="55.099999999999994" y1="540.1700000000001" x2="58.3" y2="540.1700000000001" stroke="#000" stroke-width="1.0"/>
<line x1="55.099999999999994" y1="533.14" x2="58.3" y2="533.14" stroke="#000" stroke-width="1.0"/>
<line x1="55.099999999999994" y1="526.11" x2="58.3" y2="526.11" stroke="#000" stroke-width="1.0"/>
<line x1="55.099999999999994" y1="519.08" x2="58.3" y2="519.08" stroke="#000" stroke-width="1.0"/>
<line x1="55.099999999999994" y1="512.0500000000001" x2="58.3" y2="512.0500000000001" stroke="#000" stroke-width="1.0"/>
<line x1="55.099999999999994" y1="505.02000000000004" x2="58.3" y2="505.02000000000004" stroke="#000" stroke-width="1.0"/>
<line x1="55.099999999999994" y1="497.99" x2="58.3" y2="497.99" stroke="#000" stroke-width="1.0"/>
<line x1="55.099999999999994" y1="490.96000000000004" x2="58.3" y2="490.96000000000004" stroke="#000" stroke-width="1.0"/>
<line x1="55.099999999999994" y1="483.93" x2="58.3" y2="483.93" stroke="#000" stroke-width="1.0"/>
<line x1="55.099999999999994" y1="476.90000000000003" x2="58.3" y2="476.90000000000003" stroke="#000" stroke-width="1.0"/>
<line x1="55.099999999999994" y1="469.87" x2="58.3" y2="469.87" stroke="#000" stroke-width="1.0"/>
<line x1="55.099999999999994" y1="462.84000000000003" x2="58.3" y2="462.84000000000003" stroke="#000" stroke-width="1.0"/>
<line x1="55.099999999999994" y1="455.81" x2="58.3" y2="455.81" stroke="#000" stroke-width="1.0"/>
<line x1="55.099999999999994" y1="448.78000000000003" x2="58.3" y2="448.78000000000003" stroke="#000" stroke-width="1.0"/>
<line x1="55.099999999999994" y1="441.75" x2="58.3" y2="441.75" stroke="#000" stroke-width="1.0"/>
<line x1="55.099999999999994" y1="434.72" x2="58.3" y2="434.72" stroke="#000" stroke-width="1.0"/>
<line x1="55.099999999999994" y1="427.69" x2="58.3" y2="427.69" stroke="#000" stroke-width="1.0"/>
<line x1="55.099999999999994" y1="420.66" x2="58.3" y2="420.66" stroke="#000" stroke-width="1.0"/>
<line x1="55.099999999999994" y1="413.63" x2="58.3" y2="413.63" stroke="#000" stroke-width="1.0"/>
<line x1="55.099999999999994" y1="406.6" x2="58.3" y2="406.6" stroke="#000" stroke-width="1.0"/>
<text x="51.6" y="542.1700000000001" font-size="9.8" text-anchor="end" textLength="5.0" lengthAdjust="spacingAndGlyphs" fill="#1a1a1a">1</text>
<text x="51.6" y="535.14" font-size="9.8" text-anchor="end" textLength="5.0" lengthAdjust="spacingAndGlyphs" fill="#1a1a1a">2</text>
<text x="51.6" y="528.11" font-size="9.8" text-anchor="end" textLength="5.0" lengthAdjust="spacingAndGlyphs" fill="#1a1a1a">3</text>
<text x="51.6" y="521.08" font-size="9.8" text-anchor="end" textLength="5.0" lengthAdjust="spacingAndGlyphs" fill="#1a1a1a">4</text>
<text x="51.6" y="514.0500000000001" font-size="9.8" text-anchor="end" textLength="5.0" lengthAdjust="spacingAndGlyphs" fill="#1a1a1a">5</text>
<text x="51.6" y="507.02000000000004" font-size="9.8" text-anchor="end" textLength="5.0" lengthAdjust="spacingAndGlyphs" fill="#1a1a1a">6</text>
<text x="51.6" y="499.99" font-size="9.8" text-anchor="end" textLength="5.0" lengthAdjust="spacingAndGlyphs" fill="#1a1a1a">7</text>
<text x="51.6" y="492.96000000000004" font-size="9.8" text-anchor="end" textLength="5.0" lengthAdjust="spacingAndGlyphs" fill="#1a1a1a">8</text>
<text x="51.6" y="485.93" font-size="9.8" text-anchor="end" textLength="5.0" lengthAdjust="spacingAndGlyphs" fill="#1a1a1a">9</text>
<text x="51.6" y="478.90000000000003" font-size="9.8" text-anchor="end" textLength="9.8" lengthAdjust="spacingAndGlyphs" fill="#1a1a1a">10</text>
<text x="51.6" y="471.87" font-size="9.8" text-anchor="end" textLength="9.8" lengthAdjust="spacingAndGlyphs" fill="#1a1a1a">11</text>
<text x="51.6" y="464.84000000000003" font-size="9.8" text-anchor="end" textLength="9.8" lengthAdjust="spacingAndGlyphs" fill="#1a1a1a">12</text>
<text x="51.6" y="457.81" font-size="9.8" text-anchor="end" textLength="9.8" lengthAdjust="spacingAndGlyphs" fill="#1a1a1a">13</text>
<text x="51.6" y="450.78000000000003" font-size="9.8" text-anchor="end" textLength="9.8" lengthAdjust="spacingAndGlyphs" fill="#1a1a1a">14</text>
<text x="51.6" y="443.75" font-size="9.8" text-anchor="end" textLength="9.8" lengthAdjust="spacingAndGlyphs" fill="#1a1a1a">15</text>
<text x="51.6" y="436.72" font-size="9.8" text-anchor="end" textLength="9.8" lengthAdjust="spacingAndGlyphs" fill="#1a1a1a">16</text>
<text x="51.6" y="429.69" font-size="9.8" text-anchor="end" textLength="9.8" lengthAdjust="spacingAndGlyphs" fill="#1a1a1a">17</text>
<text x="51.6" y="422.66" font-size="9.8" text-anchor="end" textLength="9.8" lengthAdjust="spacingAndGlyphs" fill="#1a1a1a">18</text>
<text x="51.6" y="415.63" font-size="9.8" text-anchor="end" textLength="9.8" lengthAdjust="spacingAndGlyphs" fill="#1a1a1a">19</text>
<text x="51.6" y="408.6" font-size="9.8" text-anchor="end" textLength="9.8" lengthAdjust="spacingAndGlyphs" fill="#1a1a1a">20</text>
<line x1="57.699999999999996" y1="543.3" x2="187" y2="543.3" stroke="#000" stroke-width="1.35"/>
<line x1="58.3" y1="543.3" x2="58.3" y2="546.5" stroke="#000" stroke-width="1.0"/>
<text x="58.3" y="558.0" font-size="9.6" text-anchor="middle" textLength="5.1" lengthAdjust="spacingAndGlyphs" fill="#1a1a1a" stroke="#1a1a1a" stroke-width="0.08">0</text>
<line x1="71.0" y1="543.3" x2="71.0" y2="546.5" stroke="#000" stroke-width="1.0"/>
<text x="71.0" y="558.0" font-size="9.6" text-anchor="middle" textLength="5.1" lengthAdjust="spacingAndGlyphs" fill="#1a1a1a" stroke="#1a1a1a" stroke-width="0.08">2</text>
<line x1="83.69999999999999" y1="543.3" x2="83.69999999999999" y2="546.5" stroke="#000" stroke-width="1.0"/>
<text x="83.69999999999999" y="558.0" font-size="9.6" text-anchor="middle" textLength="5.1" lengthAdjust="spacingAndGlyphs" fill="#1a1a1a" stroke="#1a1a1a" stroke-width="0.08">4</text>
<line x1="96.39999999999999" y1="543.3" x2="96.39999999999999" y2="546.5" stroke="#000" stroke-width="1.0"/>
<text x="96.39999999999999" y="558.0" font-size="9.6" text-anchor="middle" textLength="5.1" lengthAdjust="spacingAndGlyphs" fill="#1a1a1a" stroke="#1a1a1a" stroke-width="0.08">6</text>
<line x1="109.1" y1="543.3" x2="109.1" y2="546.5" stroke="#000" stroke-width="1.0"/>
<text x="109.1" y="558.0" font-size="9.6" text-anchor="middle" textLength="5.1" lengthAdjust="spacingAndGlyphs" fill="#1a1a1a" stroke="#1a1a1a" stroke-width="0.08">8</text>
<line x1="121.8" y1="543.3" x2="121.8" y2="546.5" stroke="#000" stroke-width="1.0"/>
<text x="121.8" y="558.0" font-size="9.6" text-anchor="middle" textLength="10.2" lengthAdjust="spacingAndGlyphs" fill="#1a1a1a" stroke="#1a1a1a" stroke-width="0.08">10</text>
<line x1="134.5" y1="543.3" x2="134.5" y2="546.5" stroke="#000" stroke-width="1.0"/>
<text x="134.5" y="558.0" font-size="9.6" text-anchor="middle" textLength="10.2" lengthAdjust="spacingAndGlyphs" fill="#1a1a1a" stroke="#1a1a1a" stroke-width="0.08">12</text>
<line x1="147.2" y1="543.3" x2="147.2" y2="546.5" stroke="#000" stroke-width="1.0"/>
<text x="147.2" y="558.0" font-size="9.6" text-anchor="middle" textLength="10.2" lengthAdjust="spacingAndGlyphs" fill="#1a1a1a" stroke="#1a1a1a" stroke-width="0.08">14</text>
<line x1="159.89999999999998" y1="543.3" x2="159.89999999999998" y2="546.5" stroke="#000" stroke-width="1.0"/>
<text x="159.89999999999998" y="558.0" font-size="9.6" text-anchor="middle" textLength="10.2" lengthAdjust="spacingAndGlyphs" fill="#1a1a1a" stroke="#1a1a1a" stroke-width="0.08">16</text>
<line x1="172.6" y1="543.3" x2="172.6" y2="546.5" stroke="#000" stroke-width="1.0"/>
<text x="172.6" y="558.0" font-size="9.6" text-anchor="middle" textLength="10.2" lengthAdjust="spacingAndGlyphs" fill="#1a1a1a" stroke="#1a1a1a" stroke-width="0.08">18</text>
<line x1="185.3" y1="543.3" x2="185.3" y2="546.5" stroke="#000" stroke-width="1.0"/>
<text x="185.3" y="558.0" font-size="9.6" text-anchor="middle" textLength="10.2" lengthAdjust="spacingAndGlyphs" fill="#1a1a1a" stroke="#1a1a1a" stroke-width="0.08">20</text>
<text x="51.95" y="573.2" font-size="10.6" textLength="29.24" lengthAdjust="spacingAndGlyphs" fill="#1a1a1a" stroke="#1a1a1a" stroke-width="0.2">Months</text>
<text x="82.69" y="573.2" font-size="10.6" textLength="18.22" lengthAdjust="spacingAndGlyphs" fill="#1a1a1a" stroke="#1a1a1a" stroke-width="0.2">after</text>
<text x="102.72" y="573.2" font-size="10.6" textLength="21.63" lengthAdjust="spacingAndGlyphs" fill="#1a1a1a" stroke="#1a1a1a" stroke-width="0.2">CD19</text>
<text x="125.95" y="573.2" font-size="10.6" textLength="14.92" lengthAdjust="spacingAndGlyphs" fill="#1a1a1a" stroke="#1a1a1a" stroke-width="0.2">CAR</text>
<text x="140.87" y="573.2" font-size="10.6" textLength="20.03" lengthAdjust="spacingAndGlyphs" fill="#1a1a1a" stroke="#1a1a1a" stroke-width="0.2">T-cell</text>
<text x="162.8" y="573.2" font-size="10.6" textLength="32.95" lengthAdjust="spacingAndGlyphs" fill="#1a1a1a" stroke="#1a1a1a" stroke-width="0.2">infusion</text>
<text x="32.5" y="486.0" font-size="10.4" textLength="25.8" lengthAdjust="spacingAndGlyphs" transform="rotate(-90 32.5 486.0)" fill="#1a1a1a" stroke="#1a1a1a" stroke-width="0.2">Patient</text>
<polygon points="120.40,445.48 123.70,448.78 120.40,452.08 117.10,448.78" stroke="#2a4888" stroke-width="0.5" fill="#2a4888"/>
<circle cx="100.1" cy="497.99" r="2.3" stroke="#6ab446" stroke-width="1.2" fill="#c8c8c8"/>
<polygon points="89.20,508.75 92.50,512.05 89.20,515.35 85.90,512.05" stroke="#2a4888" stroke-width="0.5" fill="#2a4888"/>
<polygon points="94.90,515.15 101.10,515.15 98.00,509.75" stroke="#e8901a" stroke-width="0.5" fill="#e8901a"/>
<circle cx="98" cy="512.0500000000001" r="2.3" stroke="#6ab446" stroke-width="1.2" fill="#e8901a"/>
<polygon points="125.50,515.78 128.80,519.08 125.50,522.38 122.20,519.08" stroke="#2a4888" stroke-width="0.5" fill="#2a4888"/>
<polygon points="126.60,529.21 132.80,529.21 129.70,523.81" stroke="#e8901a" stroke-width="0.5" fill="#e8901a"/>
<circle cx="129.7" cy="526.11" r="2.3" stroke="#6ab446" stroke-width="1.2" fill="#e8901a"/>
<polygon points="126.90,536.87 130.20,540.17 126.90,543.47 123.60,540.17" stroke="#2a4888" stroke-width="0.5" fill="#2a4888"/>
<polygon points="143.60,542.98 151.20,542.98 147.40,536.36" stroke="#e8901a" stroke-width="0.5" fill="#e8901a"/>
<circle cx="147.8" cy="455.8" r="2.6" stroke="#6ab446" stroke-width="1.2" fill="#fff"/>
<polygon points="144.10,472.12 151.50,472.12 147.80,465.68" stroke="#e8901a" stroke-width="0.5" fill="#e8901a"/>
<polygon points="147.80,477.90 151.30,481.40 147.80,484.90 144.30,481.40" stroke="#2a4888" stroke-width="0.5" fill="#2a4888"/>
<text x="155.8" y="458.9" font-size="9.3" textLength="30.0" lengthAdjust="spacingAndGlyphs" fill="#1a1a1a" stroke="#1a1a1a" stroke-width="0.12">Relapse</text>
<text x="155.8" y="471.9" font-size="9.3" textLength="42.6" lengthAdjust="spacingAndGlyphs" fill="#1a1a1a" stroke="#1a1a1a" stroke-width="0.12">Ig revovery</text>
<text x="155.8" y="484.3" font-size="9.3" textLength="49.2" lengthAdjust="spacingAndGlyphs" fill="#1a1a1a" stroke="#1a1a1a" stroke-width="0.12">CD19+ &gt; 2%</text>
<text x="259.3" y="401.5" font-size="13.2" font-weight="bold" fill="#000" stroke="#000" stroke-width="0.2">F</text>
<line x1="305.9" y1="432.3" x2="305.9" y2="544.0" stroke="#000" stroke-width="1.3"/>
<line x1="302.7" y1="543.4" x2="305.9" y2="543.4" stroke="#000" stroke-width="1.0"/>
<text x="299.3" y="546.5" font-size="9.6" text-anchor="end" textLength="5.1" lengthAdjust="spacingAndGlyphs" fill="#1a1a1a" stroke="#1a1a1a" stroke-width="0.08">0</text>
<line x1="302.7" y1="521.8" x2="305.9" y2="521.8" stroke="#000" stroke-width="1.0"/>
<text x="299.3" y="524.9" font-size="9.6" text-anchor="end" textLength="10.2" lengthAdjust="spacingAndGlyphs" fill="#1a1a1a" stroke="#1a1a1a" stroke-width="0.08">20</text>
<line x1="302.7" y1="500.2" x2="305.9" y2="500.2" stroke="#000" stroke-width="1.0"/>
<text x="299.3" y="503.3" font-size="9.6" text-anchor="end" textLength="10.2" lengthAdjust="spacingAndGlyphs" fill="#1a1a1a" stroke="#1a1a1a" stroke-width="0.08">40</text>
<line x1="302.7" y1="478.59999999999997" x2="305.9" y2="478.59999999999997" stroke="#000" stroke-width="1.0"/>
<text x="299.3" y="481.7" font-size="9.6" text-anchor="end" textLength="10.2" lengthAdjust="spacingAndGlyphs" fill="#1a1a1a" stroke="#1a1a1a" stroke-width="0.08">60</text>
<line x1="302.7" y1="457.0" x2="305.9" y2="457.0" stroke="#000" stroke-width="1.0"/>
<text x="299.3" y="460.1" font-size="9.6" text-anchor="end" textLength="10.2" lengthAdjust="spacingAndGlyphs" fill="#1a1a1a" stroke="#1a1a1a" stroke-width="0.08">80</text>
<line x1="302.7" y1="435.4" x2="305.9" y2="435.4" stroke="#000" stroke-width="1.0"/>
<text x="299.3" y="438.5" font-size="9.6" text-anchor="end" textLength="15.299999999999999" lengthAdjust="spacingAndGlyphs" fill="#1a1a1a" stroke="#1a1a1a" stroke-width="0.08">100</text>
<line x1="305.29999999999995" y1="543.4" x2="490.5" y2="543.4" stroke="#000" stroke-width="1.35"/>
<line x1="306.29999999999995" y1="543.4" x2="306.29999999999995" y2="546.6" stroke="#000" stroke-width="1.0"/>
<text x="306.29999999999995" y="559.6" font-size="9.6" text-anchor="middle" textLength="5.1" lengthAdjust="spacingAndGlyphs" fill="#1a1a1a" stroke="#1a1a1a" stroke-width="0.08">0</text>
<line x1="333.9" y1="543.4" x2="333.9" y2="546.6" stroke="#000" stroke-width="1.0"/>
<text x="333.9" y="559.6" font-size="9.6" text-anchor="middle" textLength="5.1" lengthAdjust="spacingAndGlyphs" fill="#1a1a1a" stroke="#1a1a1a" stroke-width="0.08">3</text>
<line x1="361.49999999999994" y1="543.4" x2="361.49999999999994" y2="546.6" stroke="#000" stroke-width="1.0"/>
<text x="361.49999999999994" y="559.6" font-size="9.6" text-anchor="middle" textLength="5.1" lengthAdjust="spacingAndGlyphs" fill="#1a1a1a" stroke="#1a1a1a" stroke-width="0.08">6</text>
<line x1="389.09999999999997" y1="543.4" x2="389.09999999999997" y2="546.6" stroke="#000" stroke-width="1.0"/>
<text x="389.09999999999997" y="559.6" font-size="9.6" text-anchor="middle" textLength="5.1" lengthAdjust="spacingAndGlyphs" fill="#1a1a1a" stroke="#1a1a1a" stroke-width="0.08">9</text>
<line x1="416.69999999999993" y1="543.4" x2="416.69999999999993" y2="546.6" stroke="#000" stroke-width="1.0"/>
<text x="416.69999999999993" y="559.6" font-size="9.6" text-anchor="middle" textLength="10.2" lengthAdjust="spacingAndGlyphs" fill="#1a1a1a" stroke="#1a1a1a" stroke-width="0.08">12</text>
<line x1="444.29999999999995" y1="543.4" x2="444.29999999999995" y2="546.6" stroke="#000" stroke-width="1.0"/>
<text x="444.29999999999995" y="559.6" font-size="9.6" text-anchor="middle" textLength="10.2" lengthAdjust="spacingAndGlyphs" fill="#1a1a1a" stroke="#1a1a1a" stroke-width="0.08">15</text>
<line x1="471.9" y1="543.4" x2="471.9" y2="546.6" stroke="#000" stroke-width="1.0"/>
<text x="471.9" y="559.6" font-size="9.6" text-anchor="middle" textLength="10.2" lengthAdjust="spacingAndGlyphs" fill="#1a1a1a" stroke="#1a1a1a" stroke-width="0.08">18</text>
<text x="326.35" y="573.4" font-size="10.6" textLength="29.42" lengthAdjust="spacingAndGlyphs" fill="#1a1a1a" stroke="#1a1a1a" stroke-width="0.2">Months</text>
<text x="357.29" y="573.4" font-size="10.6" textLength="18.33" lengthAdjust="spacingAndGlyphs" fill="#1a1a1a" stroke="#1a1a1a" stroke-width="0.2">after</text>
<text x="377.44" y="573.4" font-size="10.6" textLength="21.76" lengthAdjust="spacingAndGlyphs" fill="#1a1a1a" stroke="#1a1a1a" stroke-width="0.2">CD19</text>
<text x="400.82" y="573.4" font-size="10.6" textLength="15.01" lengthAdjust="spacingAndGlyphs" fill="#1a1a1a" stroke="#1a1a1a" stroke-width="0.2">CAR</text>
<text x="415.83" y="573.4" font-size="10.6" textLength="20.15" lengthAdjust="spacingAndGlyphs" fill="#1a1a1a" stroke="#1a1a1a" stroke-width="0.2">T-cell</text>
<text x="437.9" y="573.4" font-size="10.6" textLength="33.15" lengthAdjust="spacingAndGlyphs" fill="#1a1a1a" stroke="#1a1a1a" stroke-width="0.2">infusion</text>
<text x="277.8" y="542.8" font-size="10.2" textLength="111.2" lengthAdjust="spacingAndGlyphs" transform="rotate(-90 277.8 542.8)" fill="#1a1a1a" stroke="#1a1a1a" stroke-width="0.2">Probability of relapse rate (%)</text>
<path d="M367,543.4 V488.6 H411.5 V433.8" stroke="#c8506f" stroke-width="1.6" fill="none"/>
<path d="M306.4,543.3 H369.3 V537.3 H490.5" stroke="#4f5f92" stroke-width="1.3" fill="none"/>
<line x1="352" y1="541.3" x2="352" y2="543.6999999999999" stroke="#111" stroke-width="1.05"/>
<line x1="375" y1="535.3" x2="375" y2="537.6999999999999" stroke="#111" stroke-width="1.05"/>
<line x1="379.7" y1="535.3" x2="379.7" y2="537.6999999999999" stroke="#111" stroke-width="1.05"/>
<line x1="387.8" y1="535.3" x2="387.8" y2="537.6999999999999" stroke="#111" stroke-width="1.05"/>
<line x1="405.8" y1="535.3" x2="405.8" y2="537.6999999999999" stroke="#111" stroke-width="1.05"/>
<line x1="411" y1="535.3" x2="411" y2="537.6999999999999" stroke="#111" stroke-width="1.05"/>
<line x1="417.3" y1="535.3" x2="417.3" y2="537.6999999999999" stroke="#111" stroke-width="1.05"/>
<line x1="427.3" y1="535.3" x2="427.3" y2="537.6999999999999" stroke="#111" stroke-width="1.05"/>
<line x1="453.1" y1="535.3" x2="453.1" y2="537.6999999999999" stroke="#111" stroke-width="1.05"/>
<line x1="475" y1="535.3" x2="475" y2="537.6999999999999" stroke="#111" stroke-width="1.05"/>
<line x1="479.7" y1="535.3" x2="479.7" y2="537.6999999999999" stroke="#111" stroke-width="1.05"/>
<line x1="490" y1="535.3" x2="490" y2="537.6999999999999" stroke="#111" stroke-width="1.05"/>
<line x1="367" y1="486.6" x2="367" y2="489.0" stroke="#111" stroke-width="1.05"/>
<line x1="315.7" y1="441.6" x2="330" y2="441.6" stroke="#4f5f92" stroke-width="1.3"/>
<line x1="323" y1="439.6" x2="323" y2="442.0" stroke="#111" stroke-width="1.05"/>
<line x1="315.7" y1="464.4" x2="330" y2="464.4" stroke="#c8506f" stroke-width="1.6"/>
<line x1="323" y1="462.4" x2="323" y2="464.79999999999995" stroke="#111" stroke-width="1.05"/>
<text x="333.5" y="444.6" font-size="9.0" textLength="73.4" lengthAdjust="spacingAndGlyphs" fill="#1a1a1a" stroke="#1a1a1a" stroke-width="0.12">time to Ig recovery</text>
<text x="333.5" y="454.6" font-size="9.0" textLength="54.5" lengthAdjust="spacingAndGlyphs" fill="#1a1a1a" stroke="#1a1a1a" stroke-width="0.12">≥12mo.(n=17)</text>
<text x="333.5" y="467.4" font-size="9.0" textLength="73.4" lengthAdjust="spacingAndGlyphs" fill="#1a1a1a" stroke="#1a1a1a" stroke-width="0.12">time to Ig recovery</text>
<text x="333.5" y="477.2" font-size="9.0" textLength="50.3" lengthAdjust="spacingAndGlyphs" fill="#1a1a1a" stroke="#1a1a1a" stroke-width="0.12">&lt;12mo.(n=3)</text>
<text x="393.9" y="500.2" font-size="9.0" textLength="33.0" lengthAdjust="spacingAndGlyphs" fill="#1a1a1a" stroke="#1a1a1a" stroke-width="0.12">p=0.000</text>
<text x="393.9" y="509.4" font-size="9.0" textLength="38.7" lengthAdjust="spacingAndGlyphs" fill="#1a1a1a" stroke="#1a1a1a" stroke-width="0.12">HR=21.37</text>
<text x="393.9" y="518.8" font-size="9.0" textLength="95.4" lengthAdjust="spacingAndGlyphs" fill="#1a1a1a" stroke="#1a1a1a" stroke-width="0.12">95%CI(1.874 to 243.661)</text>
</svg>
</body></html>
